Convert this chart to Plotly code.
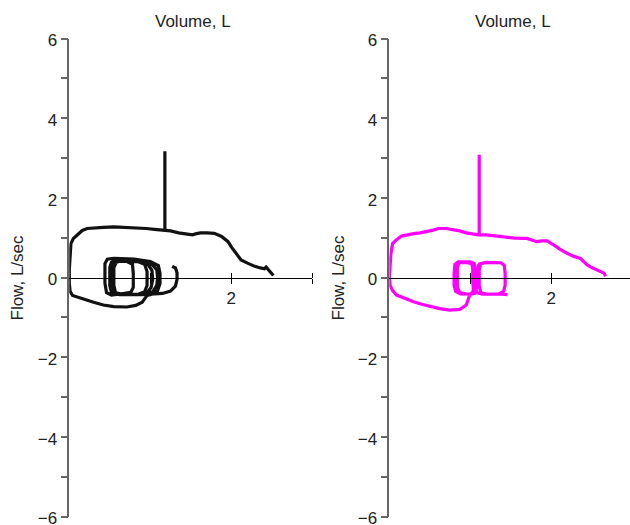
import plotly.graph_objects as go

# ---------------- data ----------------
# Left panel (black)
tidal_left_vol = [1.27, 1.31, 1.33, 1.33, 1.31, 1.25, 1.15, 1.05,
                  0.90, 0.62, 0.55, 0.53, 0.53, 0.55, 0.60, 0.85, 1.02, 1.08, 1.09, 1.08, 1.03, 0.95,
                  0.65, 0.57, 0.55, 0.55, 0.58, 0.65, 0.85, 0.97, 1.02, 1.03, 1.01, 0.96, 0.88,
                  0.62, 0.52, 0.50, 0.50, 0.52, 0.58, 0.82, 0.93, 0.96, 0.96, 0.93, 0.85,
                  0.60, 0.53, 0.51, 0.51, 0.55, 0.70, 0.78, 0.79, 0.79, 0.76, 0.68,
                  0.52, 0.46, 0.44, 0.44, 0.47, 0.55, 0.80, 1.00, 1.10, 1.12, 1.12, 1.09, 1.02, 0.96]
tidal_left_flow = [0.28, 0.24, 0.12, -0.05, -0.22, -0.34, -0.40, -0.42,
                   -0.43, -0.43, -0.38, -0.20, 0.20, 0.36, 0.42, 0.40, 0.33, 0.20, 0.00, -0.20, -0.36, -0.42,
                   -0.43, -0.38, -0.20, 0.25, 0.38, 0.42, 0.40, 0.33, 0.18, -0.05, -0.25, -0.38, -0.42,
                   -0.42, -0.37, -0.20, 0.25, 0.38, 0.44, 0.42, 0.33, 0.15, -0.20, -0.36, -0.42,
                   -0.42, -0.36, -0.15, 0.30, 0.40, 0.41, 0.33, 0.10, -0.25, -0.37, -0.40,
                   -0.44, -0.38, -0.15, 0.35, 0.46, 0.48, 0.46, 0.40, 0.30, 0.10, -0.15, -0.33, -0.42, -0.45]
forced_left_vol = [0.96, 0.94, 0.90, 0.82, 0.71, 0.55, 0.42, 0.30, 0.20, 0.10, 0.04, 0.01, 0.00, 0.00,
                   0.01, 0.02, 0.05, 0.10, 0.16, 0.22, 0.30, 0.42, 0.55, 0.70, 0.85, 0.95, 1.05, 1.15,
                   1.25, 1.35, 1.45, 1.52, 1.57, 1.62, 1.70, 1.79, 1.88, 1.96, 2.00, 2.04, 2.08, 2.12,
                   2.20, 2.29, 2.36, 2.41, 2.43, 2.46, 2.49, 2.52]
forced_left_flow = [-0.45, -0.50, -0.62, -0.70, -0.74, -0.73, -0.69, -0.62, -0.55, -0.50, -0.45, -0.35, -0.15, 0.20,
                    0.60, 0.85, 0.98, 1.08, 1.18, 1.23, 1.25, 1.26, 1.27, 1.26, 1.25, 1.23, 1.21, 1.20,
                    1.17, 1.12, 1.09, 1.07, 1.10, 1.12, 1.12, 1.11, 1.03, 0.90, 0.77, 0.65, 0.53, 0.44,
                    0.36, 0.28, 0.24, 0.22, 0.26, 0.18, 0.11, 0.05]
spike_left_vol = [1.18, 1.18]
spike_left_flow = [1.19, 3.17]

# Right panel (magenta)
tidal_right_vol = [1.46, 1.38, 1.20, 1.13, 1.11, 1.11, 1.13, 1.20, 1.38, 1.42, 1.43, 1.43, 1.41, 1.35, 1.15, 1.08,
                   1.06, 1.06, 1.05, 1.00, 0.85, 0.81, 0.80, 0.80, 0.82, 0.88, 1.00, 1.04, 1.03, 1.03, 1.02,
                   0.95, 0.86, 0.84, 0.84, 0.87, 0.97, 1.05, 1.08, 1.09, 1.10, 1.12, 1.09, 1.05, 0.99]
tidal_right_flow = [-0.43, -0.42, -0.42, -0.38, -0.20, 0.20, 0.35, 0.38, 0.37, 0.30, 0.10, -0.20, -0.35, -0.41, -0.42, -0.38,
                    -0.20, 0.20, 0.35, 0.39, 0.39, 0.33, 0.10, -0.20, -0.35, -0.41, -0.42, -0.35, -0.10, 0.20, 0.35,
                    0.38, 0.37, 0.25, -0.25, -0.38, -0.42, -0.40, -0.25, 0.10, 0.30, 0.36, 0.00, -0.30, -0.46]
forced_right_vol = [0.99, 0.98, 0.95, 0.87, 0.75, 0.62, 0.50, 0.40, 0.30, 0.20, 0.09, 0.04, 0.01, 0.00,
                    0.01, 0.02, 0.04, 0.09, 0.15, 0.21, 0.30, 0.38, 0.46, 0.54, 0.61, 0.71, 0.78, 0.87,
                    0.95, 1.04, 1.10, 1.20, 1.29, 1.38, 1.45, 1.55, 1.70, 1.78, 1.82, 1.88, 1.95, 2.00,
                    2.03, 2.10, 2.19, 2.28, 2.36, 2.40, 2.44, 2.50, 2.56, 2.61, 2.65, 2.67]
forced_right_flow = [-0.46, -0.52, -0.69, -0.80, -0.82, -0.78, -0.73, -0.67, -0.61, -0.53, -0.44, -0.33, -0.20, 0.00,
                     0.30, 0.60, 0.85, 0.95, 1.04, 1.07, 1.10, 1.12, 1.15, 1.19, 1.23, 1.23, 1.20, 1.17,
                     1.12, 1.08, 1.07, 1.07, 1.05, 1.01, 1.00, 0.99, 0.98, 0.94, 0.90, 0.92, 0.92, 0.85,
                     0.82, 0.72, 0.61, 0.53, 0.48, 0.40, 0.32, 0.25, 0.19, 0.16, 0.11, 0.03]
spike_right_vol = [1.11, 1.11]
spike_right_flow = [1.07, 3.08]

y_tickvals = [-6, -5, -4, -3, -2, -1, 0, 1, 2, 3, 4, 5, 6]
y_ticktext = ["\u22126", "", "\u22124", "", "\u22122", "", "0", "", "2", "", "4", "", "6"]
x_tickvals = [1, 2, 3]
x_ticktext = ["", "2", ""]
x_title = "Volume, L"
y_title = "Flow, L/sec"

# ---------------- geometry (reference-window pixels -> paper fractions) ----------------
W, H = 630, 525
FONT = "Liberation Sans, Arial, Helvetica, sans-serif"
TXT = "#222222"
PX_PER_L = 81.0
left_x0 = 69.3
right_x0 = 389.3
y_top_px, y_bot_px = 38.5, 516.5

def fx(px):
    return px / W

def fy(py):
    return (H - py) / H

ydom = [fy(y_bot_px), fy(y_top_px)]
ymid = (ydom[0] + ydom[1]) / 2
left_dom = [fx(left_x0), fx(left_x0 + 3 * PX_PER_L)]
right_dom = [fx(right_x0), 1.0]
right_max = (W - right_x0) / PX_PER_L

fig = go.Figure()

def add_panel(xa, ya, color, tv, tf, fv, ff, sv, sf):
    for vx, vy in ((tv, tf), (fv, ff), (sv, sf)):
        fig.add_trace(go.Scatter(x=vx, y=vy, mode="lines", xaxis=xa, yaxis=ya,
                                 line=dict(color=color, width=3.2),
                                 showlegend=False, hoverinfo="skip"))

add_panel("x", "y", "#111111", tidal_left_vol, tidal_left_flow, forced_left_vol, forced_left_flow,
          spike_left_vol, spike_left_flow)
add_panel("x2", "y2", "#ff00ff", tidal_right_vol, tidal_right_flow, forced_right_vol, forced_right_flow,
          spike_right_vol, spike_right_flow)
# empty traces so the upward-tick overlay axes exist
fig.add_trace(go.Scatter(x=[], y=[], xaxis="x3", yaxis="y", showlegend=False))
fig.add_trace(go.Scatter(x=[], y=[], xaxis="x4", yaxis="y2", showlegend=False))

def xaxis_main(dom, rng):
    return dict(domain=dom, range=rng, anchor="free", position=ymid, automargin=False,
                showline=True, linecolor="#000000", linewidth=1.2,
                ticks="outside", ticklen=5, tickwidth=1.2, tickcolor="#000000",
                tickvals=x_tickvals, ticktext=x_ticktext,
                tickfont=dict(family=FONT, size=17, color=TXT),
                showgrid=False, zeroline=False, fixedrange=True)

def xaxis_over(over, dom, rng):
    return dict(overlaying=over, domain=dom, range=rng, anchor="free", position=ymid,
                automargin=False, side="top", showline=False, ticks="outside", ticklen=5,
                tickwidth=1.2, tickcolor="#000000", tickvals=x_tickvals, showticklabels=False,
                showgrid=False, zeroline=False, fixedrange=True)

def yaxis(anchor):
    return dict(domain=ydom, range=[-6, 6], anchor=anchor, automargin=False,
                showline=True, linecolor="#666666", linewidth=1.6,
                ticks="outside", ticklen=7, tickwidth=1.6, tickcolor="#666666",
                tickvals=y_tickvals, ticktext=y_ticktext, ticklabeloverflow="allow",
                ticklabelshift=2,
                tickfont=dict(family=FONT, size=17, color=TXT),
                showgrid=False, zeroline=False, fixedrange=True)

fig.update_layout(
    autosize=True,
    margin=dict(l=0, r=0, t=0, b=0, pad=0, autoexpand=False),
    paper_bgcolor="white", plot_bgcolor="white",
    font=dict(family=FONT, size=17, color=TXT),
    xaxis=xaxis_main(left_dom, [0, 3]),
    xaxis2=xaxis_main(right_dom, [0, right_max]),
    xaxis3=xaxis_over("x", left_dom, [0, 3]),
    xaxis4=xaxis_over("x2", right_dom, [0, right_max]),
    yaxis=yaxis("x"),
    yaxis2=yaxis("x2"),
)

# axis titles
for cpx in (192.5, 513.0):
    fig.add_annotation(text=x_title, x=fx(cpx), y=fy(21), xref="paper", yref="paper",
                       xanchor="center", yanchor="middle", showarrow=False,
                       font=dict(family=FONT, size=17, color=TXT))
for px in (17, 338):
    fig.add_annotation(text=y_title, x=fx(px), y=ymid, xref="paper", yref="paper",
                       xanchor="center", yanchor="middle", textangle=-90, showarrow=False,
                       font=dict(family=FONT, size=17, color=TXT))

# the figure fills the browser window exactly, pinned to its top-left corner
pin_js = ("document.documentElement.style.margin='0';"
          "document.body.style.margin='0';document.body.style.overflow='hidden';"
          "var d=document.getElementById('{plot_id}');"
          "d.style.position='fixed';d.style.left='0px';d.style.top='0px';"
          "d.style.width='100vw';d.style.height='100vh';"
          "Plotly.Plots.resize(d);")

fig.write_html("out.html", post_script=pin_js,
               default_width="100vw", default_height="100vh",
               config={"displayModeBar": False, "responsive": True})
